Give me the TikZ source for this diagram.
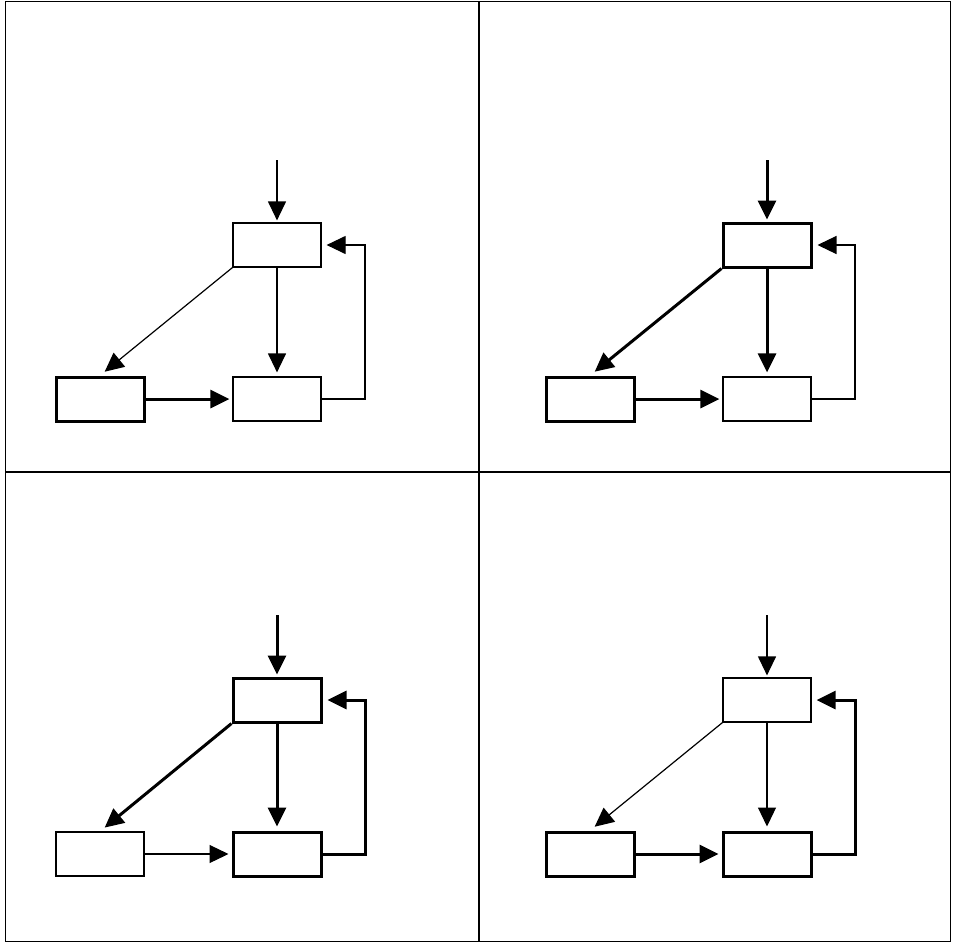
\documentclass[tikz,border=0pt]{standalone}
\usetikzlibrary{arrows.meta}
\begin{document}
\begin{tikzpicture}[x=1pt,y=-1pt,
  ln/.style={line width=1.2pt},
  hv/.style={line width=3pt},
  blk/.style={draw,rectangle,minimum width=88pt,minimum height=44pt,inner sep=0pt},
  arr/.style={-{Triangle[length=19pt,width=18pt]}},
  frame/.style={line width=1.5pt}]
\useasboundingbox (0,0) rectangle (953,945);
% outer frame and the two dividers
\draw[frame] (5.5,1.5) rectangle (950.5,941.5);
\coordinate (vt) at (479,1.5);
\coordinate (vb) at (479,941.5);
\coordinate (hl) at (5.5,472);
\coordinate (hr) at (950.5,472);
\draw[frame] (vt) -- (vb);
\draw[frame] (hl) -- (hr);
% four variants of the same three-block loop
\foreach \p/\dx/\dy/\tb/\lb/\bb/\ei/\ed/\ev/\eh/\ef in {
  a/0/0/ln/hv/ln/ln/ln/ln/hv/ln,
  b/490/0/hv/hv/ln/hv/hv/hv/hv/ln,
  c/0/455/hv/ln/hv/hv/hv/hv/ln/hv,
  d/490/455/ln/hv/hv/ln/ln/ln/hv/hv}{
  \begin{scope}[shift={(\dx,\dy)}]
    \node[blk,\tb] (\p top) at (277,245) {};
    \node[blk,\lb] (\p lft) at (100,399) {};
    \node[blk,\bb] (\p bot) at (277,399) {};
    \coordinate (\p src) at (277,160);
    \coordinate (\p fb) at (365,245);
    \draw[arr,\ei,shorten >=2pt] (\p src) -- (\p top);
    \draw[arr,\ed,shorten >=6pt] (\p top.south west) -- (\p lft.north);
    \draw[arr,\ev,shorten >=4pt] (\p top) -- (\p bot);
    \draw[arr,\eh,shorten >=3pt] (\p lft) -- (\p bot);
    \draw[arr,\ef,shorten >=5pt] (\p bot.east) -| (\p fb) -- (\p top.east);
  \end{scope}
}
\end{tikzpicture}
\end{document}
